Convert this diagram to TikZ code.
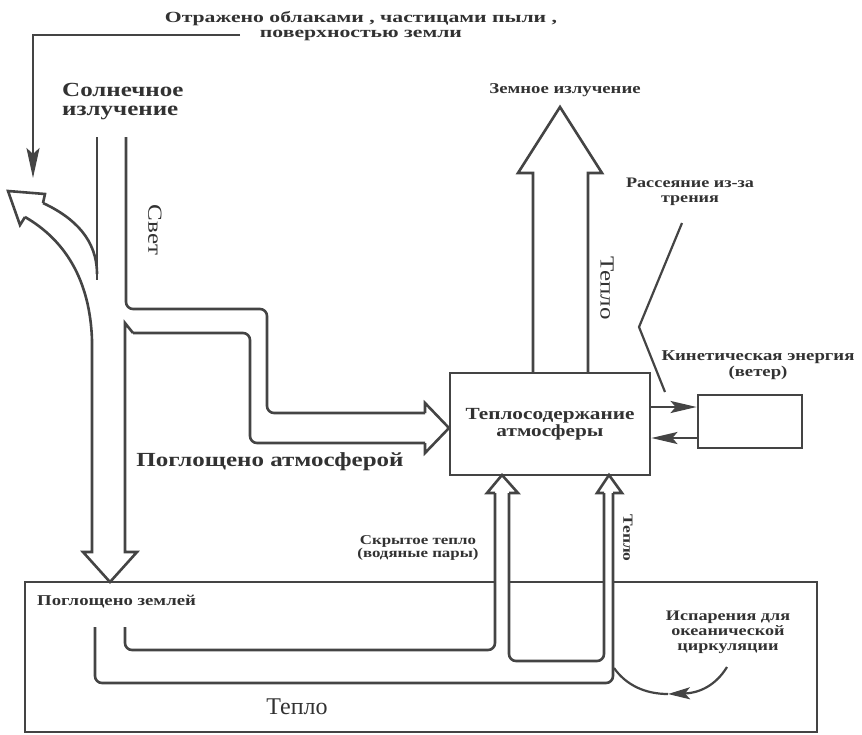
\documentclass[tikz,border=0pt]{standalone}
\usepackage{fontspec}
\setmainfont{Liberation Serif}[FakeStretch=1.25]
\newfontfamily\condfont{Liberation Serif}
\newfontfamily\widefont{Liberation Serif}[FakeStretch=1.4]
\usetikzlibrary{arrows.meta}
\definecolor{lc}{RGB}{68,68,68}
\definecolor{tc}{RGB}{50,50,50}
\begin{document}
\begin{tikzpicture}[x=1pt,y=-1pt,
  flow/.style={draw=lc, line width=2.6pt, rounded corners=7pt, line join=round},
  head/.style={draw=lc, line width=2.6pt, line join=miter},
  thinl/.style={draw=lc, line width=2.2pt},
  boxst/.style={draw=lc, line width=2.8pt, inner sep=0pt},
  lbl/.style={text=tc, inner sep=0pt, align=center}]
\useasboundingbox (0,0) rectangle (862,734);
\fill[white] (0,0) rectangle (862,734);

% ---------- boxes ----------
\node[boxst, minimum width=200pt, minimum height=102pt, text=tc, align=center,
      font=\bfseries\fontsize{17}{17}\selectfont] (atm) at (550,424) {Теплосодержание\\атмосферы};
\node[boxst, minimum width=104pt, minimum height=53pt] (wind) at (750,421.5) {};
\draw[boxst] (495,582) -- (25,582) -- (25,732) -- (817,732) -- (817,582) -- (613,582);
\draw[boxst] (509,582) -- (604,582);

% ---------- labels ----------
\node[lbl, font=\widefont\bfseries\fontsize{15.5}{15.5}\selectfont] (reflect) at (361,26) {Отражено облаками , частицами пыли ,\\поверхностью земли};
\node[lbl, anchor=west, align=left, font=\bfseries\fontsize{20}{19}\selectfont] (sun) at (62,102) {Солнечное\\излучение};
\node[lbl, rotate=-90, font=\fontsize{20}{20}\selectfont] (svet) at (155,230) {Свет};
\node[lbl, font=\bfseries\fontsize{20}{20}\selectfont] (absatm) at (270,462) {Поглощено атмосферой};
\node[lbl, font=\bfseries\fontsize{15}{15}\selectfont] (earthrad) at (565,90) {Земное излучение};
\node[lbl, rotate=-90, font=\fontsize{20}{20}\selectfont] (teplo1) at (607,288) {Тепло};
\node[lbl, font=\bfseries\fontsize{14.5}{15}\selectfont] (friction) at (690,192) {Рассеяние из-за\\трения};
\node[lbl, font=\bfseries\fontsize{15}{16}\selectfont] (kinetic) at (758,365) {Кинетическая энергия\\(ветер)};
\node[lbl, font=\bfseries\fontsize{13.5}{13}\selectfont] (latent) at (418,548) {Скрытое тепло\\(водяные пары)};
\node[lbl, rotate=-90, font=\bfseries\fontsize{14}{14}\selectfont] (teplo2) at (628,538) {Тепло};
\node[lbl, anchor=west, font=\bfseries\fontsize{15}{15}\selectfont] (absground) at (37,602) {Поглощено землей};
\node[lbl, font=\bfseries\fontsize{14.5}{15}\selectfont] (evap) at (728,632) {Испарения для\\океанической\\циркуляции};
\node[lbl, font=\condfont\fontsize{24}{24}\selectfont] (teplo3) at (297,707) {Тепло};

% ---------- reflected ----------
\coordinate (rs) at (240,35);
\coordinate (re) at (33,178);
\draw[thinl, -{Stealth[length=30pt,width=13pt,inset=6pt]}] (rs) -- (rs -| re) -- (re);

% ---------- solar stream ----------
\draw[flow] (97,137) -- (97,280);
\draw[flow] (126,137) -- (126,309) -- (267,309) -- (267,413) -- (425,413);
\draw[head] (425,413) -- (425,403) -- (449,428) -- (425,453) -- (425,443);
\draw[flow] (425,443) -- (250,443) -- (250,333) -- (133,333);
\draw[head] (133,333) -- (125,323) -- (125,552) -- (137,552) -- (110,582) -- (83,552) -- (92,552) -- (92,340);
\draw[flow] (92,340) .. controls (90,280) and (65,240) .. (25,217);
\draw[head] (25,217) -- (20,225) -- (8,191) -- (45,194) -- (43,203);
\draw[flow] (43,203) .. controls (75,218) and (97,240) .. (97,274);

% ---------- terrestrial radiation ----------
\draw[head] (533,373) -- (533,173) -- (518,173) -- (560,107) -- (602,173) -- (588,173) -- (588,373);

% ---------- friction ----------
\coordinate (z1) at (682,223);
\coordinate (z2) at (639,327);
\coordinate (z3) at (665,392);
\draw[thinl] (z1) -- (z2) -- (z3);

% ---------- atm <-> wind ----------
\draw[thinl, -{Stealth[length=26pt,width=12pt,inset=5pt]}] ([yshift=17pt]atm.east) -- ([yshift=17pt]atm.east -| wind.west);
\draw[thinl, -{Stealth[length=26pt,width=12pt,inset=5pt]}] ([yshift=-14pt]atm.east -| wind.west) -- ([yshift=-14pt]atm.east);

% ---------- ground flows ----------
\draw[flow] (95,627) -- (95,683) -- (613,683) -- (613,493);
\draw[head] (613,493) -- (622,493) -- (609,475) -- (597,493) -- (604,493);
\draw[flow] (604,493) -- (604,661) -- (509,661) -- (509,493);
\draw[head] (509,493) -- (518,493) -- (502,475) -- (487,493) -- (495,493);
\draw[flow] (495,493) -- (495,650) -- (125,650) -- (125,627);

% ---------- evaporation ----------
\coordinate (ev0) at (614,668);
\coordinate (evt) at (668,694);
\coordinate (ev1) at (727,667);
\draw[thinl] (ev0) .. controls (626,685) and (645,694) .. (evt);
\draw[thinl, -{Stealth[length=22pt,width=12pt,inset=5pt]}] (ev1) .. controls (716,685) and (700,693) .. (evt);
\end{tikzpicture}
\end{document}
